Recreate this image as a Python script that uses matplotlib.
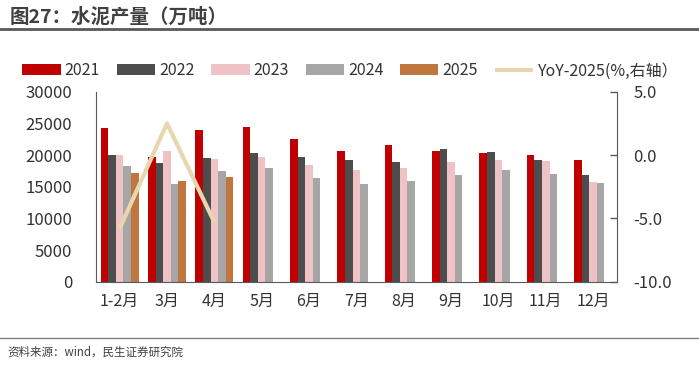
import matplotlib.pyplot as plt
import numpy as np

plt.rcParams['font.family'] = ['Noto Sans CJK SC', 'DejaVu Sans']
plt.rcParams['axes.unicode_minus'] = False

# 数据：水泥产量（万吨）
months = ['1-2月', '3月', '4月', '5月', '6月', '7月', '8月', '9月', '10月', '11月', '12月']
y2021 = [24200, 19750, 24000, 24400, 22500, 20650, 21600, 20600, 20300, 20000, 19150]
y2022 = [20000, 18700, 19500, 20300, 19650, 19250, 18900, 20900, 20500, 19200, 16850]
y2023 = [19950, 20650, 19400, 19700, 18500, 17700, 17950, 18950, 19200, 19050, 15800]
y2024 = [18250, 15450, 17500, 17950, 16450, 15400, 15850, 16850, 17600, 16950, 15550]
y2025 = [17100, 15850, 16600]
yoy2025 = [-5.8, 2.5, -5.3]

series = [('2021', y2021, '#C00000'),
          ('2022', y2022, '#4D4D4D'),
          ('2023', y2023, '#EFC3C5'),
          ('2024', y2024, '#A6A6A6'),
          ('2025', y2025, '#C0773F')]

fig = plt.figure(figsize=(6.99, 3.67), dpi=100)
ax = fig.add_axes([0.1373, 0.2324, 0.745, 0.5177])
ax2 = ax.twinx()

x = np.arange(len(months))
w = 0.16
handles = []
for i, (name, vals, color) in enumerate(series):
    xs = x[:len(vals)] + (i - 2) * w
    b = ax.bar(xs, vals, width=w, color=color, label=name, zorder=2)
    handles.append(b)

line, = ax2.plot(x[:len(yoy2025)], yoy2025, color='#E8D6AE', linewidth=3,
                 label='YoY-2025(%,右轴）', solid_capstyle='butt', zorder=3)
handles.append(line)

ax.set_xlim(-0.5, len(months) - 0.5)
ax.set_ylim(0, 30000)
ax.set_yticks(range(0, 30001, 5000))
ax2.set_ylim(-10, 5)
ax2.set_yticks([-10, -5, 0, 5])
ax2.set_yticklabels(['-10.0', '-5.0', '0.0', '5.0'])

ax.set_xticks(x)
ax.set_xticklabels(months)
ax.tick_params(axis='x', length=0, labelsize=11.5, colors='#333333', pad=8)
ax.tick_params(axis='y', length=0, labelsize=12, colors='#333333', pad=17)
ax2.tick_params(axis='y', direction='in', length=5, width=1, color='#595959',
                labelsize=12, labelcolor='#333333', pad=12)

for a in (ax, ax2):
    a.spines['top'].set_visible(False)
ax2.spines['left'].set_visible(False)
ax2.spines['bottom'].set_visible(False)
ax.spines['right'].set_visible(False)
ax.spines['left'].set_color('#595959')
ax.spines['bottom'].set_color('#595959')
ax2.spines['right'].set_color('#595959')

fig.legend(handles=handles, loc='center left', bbox_to_anchor=(0.032, 0.807), ncol=6,
           frameon=False, fontsize=11.5, handlelength=2.4, handleheight=0.7,
           handletextpad=0.25, columnspacing=1.05, borderpad=0, borderaxespad=0,
           labelcolor='#333333')

# 标题和来源
fig.text(0.014, 0.952, '图27：水泥产量（万吨）', fontsize=14, fontweight='bold',
         color='#404040', va='center', ha='left')
fig.add_artist(plt.Line2D([0, 1], [0.92, 0.92], color='#595959', linewidth=2))
fig.add_artist(plt.Line2D([0, 1], [0.08, 0.08], color='#7F7F7F', linewidth=1))
fig.text(0.011, 0.04, '资料来源：wind，民生证券研究院', fontsize=8.3,
         color='#404040', va='center', ha='left')

fig.savefig('out.png', dpi=100)
